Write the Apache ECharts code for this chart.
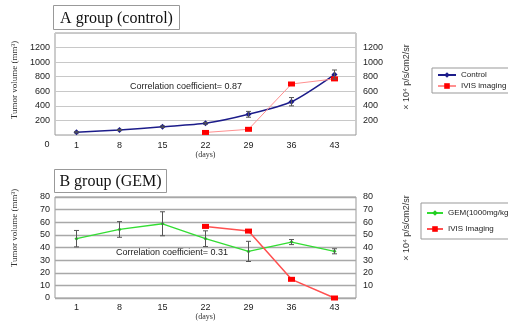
<!DOCTYPE html>
<html><head><meta charset="utf-8">
<script src="https://cdn.jsdelivr.net/npm/echarts@6/dist/echarts.min.js"></script>
<style>html,body{margin:0;padding:0;background:#fff}#c{width:508px;height:322px}</style>
</head><body><div id="c"></div>
<script>
const days = ['1','8','15','22','29','36','43'];
const controlVol = [37, 69, 114, 160, 284, 457, 830];
const controlErr = [8, 8, 10, 12, 40, 57, 62];
const ivisA = [null, null, null, 35, 78, 700, 770];
const gemVol = [47, 54.3, 58.8, 47, 36.9, 44.3, 37];
const gemErr = [6.5, 6.2, 9.5, 6.2, 8, 2, 2];
const ivisB = [null, null, null, 56.7, 53, 14.8, 0];

const SANS = '"Liberation Sans", Arial, sans-serif';
const SERIF = '"Liberation Serif", "Times New Roman", serif';

function errData(vals, errs){ return vals.map((v,i)=>[i, v-errs[i], v+errs[i]]); }
function errSeries(x, y, vals, errs){
  return {
    type:'custom', xAxisIndex:x, yAxisIndex:y, z:5, silent:true,
    data: errData(vals, errs),
    renderItem(params, api){
      const i = api.value(0);
      const lo = api.coord([i, api.value(1)]);
      const hi = api.coord([i, api.value(2)]);
      const w = 2.5, st = {stroke:'#555', lineWidth:1};
      return {type:'group', children:[
        {type:'line', shape:{x1:lo[0],y1:lo[1],x2:hi[0],y2:hi[1]}, style:st},
        {type:'line', shape:{x1:lo[0]-w,y1:lo[1],x2:lo[0]+w,y2:lo[1]}, style:st},
        {type:'line', shape:{x1:hi[0]-w,y1:hi[1],x2:hi[0]+w,y2:hi[1]}, style:st}
      ]};
    }
  };
}
const lblStyle = {fontFamily:SANS, fontSize:9, color:'#222'};
function yAx(gi, max, interval, pos, hideZero, hideMax){
  return {type:'value', gridIndex:gi, min:0, max:max, interval:interval, position:pos,
    axisLine:{show:false}, axisTick:{show:false},
    splitLine:{show: pos==='left', lineStyle:{color: gi===0?'#c8c8c8':'#a8a8a8', width: gi===0?1:1.3}},
    axisLabel:Object.assign({margin: pos==='left'?5:7, formatter:v=> ((v===max && hideMax) || (v===0 && hideZero)) ? '' : String(v)}, lblStyle)};
}
function xAx(gi, gap, nameGap){
  return {type:'category', gridIndex:gi, data:days, boundaryGap:true,
    axisLine:{show:false}, axisTick:{show:false},
    axisLabel:Object.assign({margin:gap}, lblStyle),
    name:'(days)', nameLocation:'middle', nameGap:nameGap,
    nameTextStyle:{fontFamily:SERIF, fontSize:8, color:'#333'}};
}
function titleBox(x, y, w, h, text){
  return {type:'group', left:x, top:y, children:[
    {type:'rect', shape:{x:0,y:0,width:w,height:h}, style:{fill:'#fff', stroke:'#999', lineWidth:1}},
    {type:'text', x:w/2, y:h/2+1, style:{text:text, font:'16px '+SERIF, fill:'#111', align:'center', verticalAlign:'middle'}}
  ]};
}
function vText(x, y, text, font){
  return {type:'text', x:x, y:y, rotation:Math.PI/2, style:{text:text, font:font, fill:'#333', align:'center', verticalAlign:'middle'}};
}
const option = {
  animation:false,
  grid:[
    {left:55, top:33, width:301, height:102, show:true, borderColor:'#999', borderWidth:1, backgroundColor:'#fff'},
    {left:55, top:197, width:301, height:101, show:true, borderColor:'#999', borderWidth:1, backgroundColor:'#fff'}
  ],
  xAxis:[xAx(0,6,16), xAx(1,5,13)],
  yAxis:[yAx(0,1400,200,'left',true,true), yAx(0,1400,200,'right',true,true), yAx(1,80,10,'left',false,false), yAx(1,80,10,'right',true,false)],
  legend:[
    {left:432, top:68, orient:'vertical', itemWidth:18, itemHeight:7, itemGap:3, padding:[3,4,3,5],
     borderColor:'#999', borderWidth:1, backgroundColor:'#fff',
     textStyle:{fontFamily:SANS, fontSize:8, color:'#222'}, data:['Control','IVIS imaging']},
    {left:421, top:203, orient:'vertical', itemWidth:16, itemHeight:7, itemGap:8, padding:[6,4,6,5],
     borderColor:'#999', borderWidth:1, backgroundColor:'#fff',
     textStyle:{fontFamily:SANS, fontSize:8, color:'#222'}, data:['GEM(1000mg/kg)','IVIS Imaging']}
  ],
  series:[
    {name:'Control', type:'line', xAxisIndex:0, yAxisIndex:0, data:controlVol, smooth:0.25,
     symbol:'diamond', symbolSize:6, lineStyle:{color:'#1c1c8a', width:1.5}, itemStyle:{color:'#1c1c8a'}},
    {name:'IVIS imaging', type:'line', xAxisIndex:0, yAxisIndex:1, data:ivisA,
     symbol:'rect', symbolSize:[7,5], lineStyle:{color:'#ff9090', width:1}, itemStyle:{color:'#ff0000'}},
    errSeries(0,0,controlVol,controlErr),
    {name:'GEM(1000mg/kg)', type:'line', xAxisIndex:1, yAxisIndex:2, data:gemVol,
     symbol:'diamond', symbolSize:4, lineStyle:{color:'#33dd33', width:1.3}, itemStyle:{color:'#22cc22'}},
    {name:'IVIS Imaging', type:'line', xAxisIndex:1, yAxisIndex:3, data:ivisB,
     symbol:'rect', symbolSize:[7,5], lineStyle:{color:'#ff5050', width:1.5}, itemStyle:{color:'#ff0000'}},
    errSeries(1,2,gemVol,gemErr)
  ],
  graphic:[
    titleBox(53, 5, 126, 24, 'A group (control)'),
    titleBox(54, 169, 112, 23, 'B group (GEM)'),
    vText(15, 80, 'Tumor volume (mm³)', '9px '+SERIF),
    vText(15, 228, 'Tumor volume (mm³)', '9px '+SERIF),
    vText(407, 77, '× 10⁴ p/s/cm2/sr', '9px '+SANS),
    vText(407, 228, '× 10⁴ p/s/cm2/sr', '9px '+SANS),
    {type:'text', x:47, y:145, style:{text:'0', font:'9px '+SANS, fill:'#222', align:'center', verticalAlign:'middle'}},
    {type:'text', x:186, y:87, style:{text:'Correlation coefficient= 0.87', font:'9px '+SANS, fill:'#222', align:'center', verticalAlign:'middle'}},
    {type:'text', x:172, y:253, style:{text:'Correlation coefficient= 0.31', font:'9px '+SANS, fill:'#222', align:'center', verticalAlign:'middle'}}
  ]
};
echarts.init(document.getElementById('c')).setOption(option);
</script></body></html>
